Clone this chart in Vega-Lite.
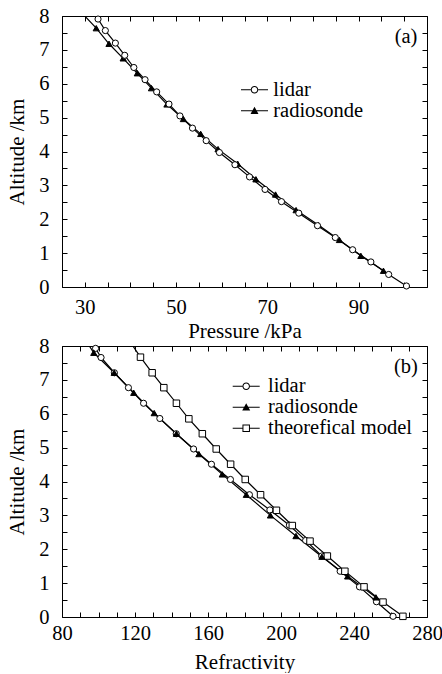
{
  "$schema": "https://vega.github.io/schema/vega-lite/v6.json",
  "padding": {"left": 6, "top": 5, "right": 0, "bottom": 0},
  "bounds": "flush",
  "spacing": 59,
  "config": {
    "font": "Liberation Serif",
    "view": {"stroke": "black", "strokeWidth": 1},
    "axis": {
      "labelFont": "Liberation Serif", "titleFont": "Liberation Serif",
      "labelFontSize": 20.5, "titleFontSize": 21, "labelColor": "black", "titleColor": "black",
      "titleFontWeight": "normal", "tickColor": "black", "domain": false, "grid": false,
      "tickSize": -5, "tickWidth": 1, "labelFlush": false, "labelOverlap": false
    },
    "legend": {
      "orient": "none", "title": null, "labelFont": "Liberation Serif", "labelFontSize": 20.5,
      "labelColor": "black", "symbolSize": 100, "rowPadding": -2, "padding": 0
    }
  },
  "datasets": {
    "a": [
      {"series": "radiosonde", "pressure": 95.45, "alt": 0.48},
      {"series": "radiosonde", "pressure": 90.5, "alt": 0.92},
      {"series": "radiosonde", "pressure": 85.8, "alt": 1.39},
      {"series": "radiosonde", "pressure": 81.2, "alt": 1.83},
      {"series": "radiosonde", "pressure": 76.3, "alt": 2.27},
      {"series": "radiosonde", "pressure": 71.8, "alt": 2.73},
      {"series": "radiosonde", "pressure": 67.5, "alt": 3.18},
      {"series": "radiosonde", "pressure": 63.5, "alt": 3.64},
      {"series": "radiosonde", "pressure": 59.2, "alt": 4.07},
      {"series": "radiosonde", "pressure": 55.4, "alt": 4.52},
      {"series": "radiosonde", "pressure": 51.6, "alt": 4.96},
      {"series": "radiosonde", "pressure": 48.0, "alt": 5.39},
      {"series": "radiosonde", "pressure": 44.6, "alt": 5.87},
      {"series": "radiosonde", "pressure": 41.5, "alt": 6.31},
      {"series": "radiosonde", "pressure": 38.4, "alt": 6.75},
      {"series": "radiosonde", "pressure": 35.3, "alt": 7.18},
      {"series": "radiosonde", "pressure": 32.5, "alt": 7.64},
      {"series": "radiosonde", "pressure": 27.9, "alt": 8.3},
      {"series": "lidar", "pressure": 100.5, "alt": 0.03},
      {"series": "lidar", "pressure": 96.6, "alt": 0.37},
      {"series": "lidar", "pressure": 92.7, "alt": 0.74},
      {"series": "lidar", "pressure": 88.7, "alt": 1.10},
      {"series": "lidar", "pressure": 84.9, "alt": 1.46},
      {"series": "lidar", "pressure": 81.0, "alt": 1.81},
      {"series": "lidar", "pressure": 76.9, "alt": 2.18},
      {"series": "lidar", "pressure": 73.1, "alt": 2.52},
      {"series": "lidar", "pressure": 69.5, "alt": 2.88},
      {"series": "lidar", "pressure": 66.1, "alt": 3.25},
      {"series": "lidar", "pressure": 62.9, "alt": 3.61},
      {"series": "lidar", "pressure": 59.5, "alt": 3.97},
      {"series": "lidar", "pressure": 56.6, "alt": 4.32},
      {"series": "lidar", "pressure": 53.6, "alt": 4.69},
      {"series": "lidar", "pressure": 50.85, "alt": 5.05},
      {"series": "lidar", "pressure": 48.45, "alt": 5.40},
      {"series": "lidar", "pressure": 45.75, "alt": 5.76},
      {"series": "lidar", "pressure": 43.2, "alt": 6.12},
      {"series": "lidar", "pressure": 40.75, "alt": 6.48},
      {"series": "lidar", "pressure": 38.75, "alt": 6.84},
      {"series": "lidar", "pressure": 36.7, "alt": 7.20},
      {"series": "lidar", "pressure": 34.5, "alt": 7.57},
      {"series": "lidar", "pressure": 32.9, "alt": 7.91}
    ],
    "b": [
      {"series": "lidar", "refractivity": 261.4, "alt": 0.02},
      {"series": "lidar", "refractivity": 252.3, "alt": 0.45},
      {"series": "lidar", "refractivity": 243.0, "alt": 0.89},
      {"series": "lidar", "refractivity": 232.4, "alt": 1.35},
      {"series": "lidar", "refractivity": 222.3, "alt": 1.80},
      {"series": "lidar", "refractivity": 213.5, "alt": 2.26},
      {"series": "lidar", "refractivity": 204.6, "alt": 2.71},
      {"series": "lidar", "refractivity": 193.9, "alt": 3.16},
      {"series": "lidar", "refractivity": 182.7, "alt": 3.61},
      {"series": "lidar", "refractivity": 172.3, "alt": 4.06},
      {"series": "lidar", "refractivity": 161.9, "alt": 4.51},
      {"series": "lidar", "refractivity": 152.1, "alt": 4.96},
      {"series": "lidar", "refractivity": 142.6, "alt": 5.41},
      {"series": "lidar", "refractivity": 133.6, "alt": 5.86},
      {"series": "lidar", "refractivity": 124.7, "alt": 6.31},
      {"series": "lidar", "refractivity": 116.4, "alt": 6.77},
      {"series": "lidar", "refractivity": 108.7, "alt": 7.21},
      {"series": "lidar", "refractivity": 101.4, "alt": 7.66},
      {"series": "lidar", "refractivity": 98.4, "alt": 7.93},
      {"series": "theorefical model", "refractivity": 266.8, "alt": 0.02},
      {"series": "theorefical model", "refractivity": 255.9, "alt": 0.44},
      {"series": "theorefical model", "refractivity": 245.5, "alt": 0.89},
      {"series": "theorefical model", "refractivity": 235.0, "alt": 1.35},
      {"series": "theorefical model", "refractivity": 225.4, "alt": 1.80},
      {"series": "theorefical model", "refractivity": 215.9, "alt": 2.24},
      {"series": "theorefical model", "refractivity": 206.2, "alt": 2.70},
      {"series": "theorefical model", "refractivity": 197.5, "alt": 3.15},
      {"series": "theorefical model", "refractivity": 188.8, "alt": 3.61},
      {"series": "theorefical model", "refractivity": 180.4, "alt": 4.06},
      {"series": "theorefical model", "refractivity": 172.4, "alt": 4.51},
      {"series": "theorefical model", "refractivity": 164.5, "alt": 4.96},
      {"series": "theorefical model", "refractivity": 156.9, "alt": 5.41},
      {"series": "theorefical model", "refractivity": 149.5, "alt": 5.85},
      {"series": "theorefical model", "refractivity": 142.7, "alt": 6.31},
      {"series": "theorefical model", "refractivity": 135.8, "alt": 6.77},
      {"series": "theorefical model", "refractivity": 129.4, "alt": 7.21},
      {"series": "theorefical model", "refractivity": 123.0, "alt": 7.67},
      {"series": "theorefical model", "refractivity": 115.1, "alt": 8.3},
      {"series": "radiosonde", "refractivity": 252.0, "alt": 0.58},
      {"series": "radiosonde", "refractivity": 236.5, "alt": 1.20},
      {"series": "radiosonde", "refractivity": 222.4, "alt": 1.78},
      {"series": "radiosonde", "refractivity": 208.2, "alt": 2.39},
      {"series": "radiosonde", "refractivity": 194.2, "alt": 3.00},
      {"series": "radiosonde", "refractivity": 181.0, "alt": 3.61},
      {"series": "radiosonde", "refractivity": 167.8, "alt": 4.21},
      {"series": "radiosonde", "refractivity": 155.0, "alt": 4.81},
      {"series": "radiosonde", "refractivity": 142.7, "alt": 5.41},
      {"series": "radiosonde", "refractivity": 130.5, "alt": 6.02},
      {"series": "radiosonde", "refractivity": 119.3, "alt": 6.62},
      {"series": "radiosonde", "refractivity": 108.6, "alt": 7.21},
      {"series": "radiosonde", "refractivity": 97.4, "alt": 7.80},
      {"series": "radiosonde", "refractivity": 90.2, "alt": 8.4}
    ]
  },
  "vconcat": [
    {
      "width": 365,
      "height": 271,
      "data": {"name": "a"},
      "layer": [
        {
          "mark": {"type": "line", "color": "black", "strokeWidth": 1.2, "clip": true},
          "encoding": {
            "x": {"field": "pressure", "type": "quantitative",
              "scale": {"domain": [25, 105], "nice": false, "zero": false},
              "axis": {"orient": "bottom", "title": "Pressure /kPa",
                "values": [25,30,35,40,45,50,55,60,65,70,75,80,85,90,95,100,105],
                "labelExpr": "(datum.value - 30) % 20 == 0 ? '' + datum.value : ''",
                "labelPadding": 15, "titlePadding": 3}},
            "y": {"field": "alt", "type": "quantitative",
              "scale": {"domain": [0, 8], "nice": false},
              "axis": {"orient": "left", "title": "Altitude /km",
                "values": [0,0.5,1,1.5,2,2.5,3,3.5,4,4.5,5,5.5,6,6.5,7,7.5,8],
                "labelExpr": "datum.value % 1 == 0 ? '' + datum.value : ''",
                "labelPadding": 18, "titlePadding": 11}},
            "detail": {"field": "series", "type": "nominal"},
            "order": {"field": "alt", "type": "quantitative"}
          }
        },
        {
          "transform": [{"filter": "datum.alt <= 8 && datum.series === 'radiosonde'"}],
          "mark": {"type": "point", "shape": "triangle-up", "filled": true, "fill": "black", "stroke": "black", "strokeWidth": 1, "opacity": 1, "size": 38},
          "encoding": {
            "x": {"field": "pressure", "type": "quantitative",
              "axis": {"orient": "top", "title": null, "labels": false,
                "values": [25,30,35,40,45,50,55,60,65,70,75,80,85,90,95,100,105]}},
            "y": {"field": "alt", "type": "quantitative",
              "axis": {"orient": "right", "title": null, "labels": false,
                "values": [0,0.5,1,1.5,2,2.5,3,3.5,4,4.5,5,5.5,6,6.5,7,7.5,8]}}
          }
        },
        {
          "transform": [{"filter": "datum.series === 'lidar'"}],
          "mark": {"type": "point", "shape": "circle", "filled": true, "fill": "white", "stroke": "black", "strokeWidth": 1, "opacity": 1, "size": 38},
          "encoding": {
            "x": {"field": "pressure", "type": "quantitative", "axis": null},
            "y": {"field": "alt", "type": "quantitative", "axis": null}
          }
        },
        {
          "transform": [{"filter": "false"}],
          "mark": {"type": "point", "filled": true, "fill": "black", "strokeWidth": 0, "opacity": 1},
          "encoding": {
            "x": {"field": "pressure", "type": "quantitative", "axis": null},
            "y": {"field": "alt", "type": "quantitative", "axis": null},
            "shape": {"field": "series", "type": "nominal",
              "scale": {"domain": ["lidar", "radiosonde"],
                "range": [
                  "M-1,-0.1L0.95,-0.1L0.95,0.1L-1,0.1ZM2.45,-0.1L4.4,-0.1L4.4,0.1L2.45,0.1ZM0.95,0A0.75,0.75 0 1,1 2.45,0A0.75,0.75 0 1,1 0.95,0ZM1.15,0A0.55,0.55 0 1,0 2.25,0A0.55,0.55 0 1,0 1.15,0Z",
                  "M-1,-0.1L4.4,-0.1L4.4,0.1L-1,0.1ZM0.9,0.65L1.7,-0.8L2.5,0.65Z"]},
              "legend": {"legendX": 173.75, "legendY": 63.5, "labelOffset": 17, "symbolFillColor": "black", "symbolStrokeWidth": 0}}
          }
        },
        {
          "data": {"values": [{"label": "(a)"}]},
          "mark": {"type": "text", "font": "Liberation Serif", "fontSize": 20.5, "color": "black", "align": "right", "baseline": "alphabetic"},
          "encoding": {
            "x": {"datum": 102.9, "type": "quantitative", "axis": null},
            "y": {"datum": 7.2, "type": "quantitative", "axis": null},
            "text": {"field": "label", "type": "nominal"}
          }
        }
      ],
      "resolve": {"axis": {"x": "independent", "y": "independent"}}
    },
    {
      "width": 365,
      "height": 271,
      "data": {"name": "b"},
      "layer": [
        {
          "mark": {"type": "line", "color": "black", "strokeWidth": 1.2, "clip": true},
          "encoding": {
            "x": {"field": "refractivity", "type": "quantitative",
              "scale": {"domain": [80, 280], "nice": false, "zero": false},
              "axis": {"orient": "bottom", "title": "Refractivity",
                "values": [80,90,100,110,120,130,140,150,160,170,180,190,200,210,220,230,240,250,260,270,280],
                "labelExpr": "datum.value % 40 == 0 ? '' + datum.value : ''",
                "labelPadding": 11, "titlePadding": 8}},
            "y": {"field": "alt", "type": "quantitative",
              "scale": {"domain": [0, 8], "nice": false},
              "axis": {"orient": "left", "title": "Altitude /km",
                "values": [0,0.5,1,1.5,2,2.5,3,3.5,4,4.5,5,5.5,6,6.5,7,7.5,8],
                "labelExpr": "datum.value % 1 == 0 ? '' + datum.value : ''",
                "labelPadding": 18, "titlePadding": 11}},
            "detail": {"field": "series", "type": "nominal"},
            "order": {"field": "alt", "type": "quantitative"}
          }
        },
        {
          "transform": [{"filter": "datum.series === 'lidar'"}],
          "mark": {"type": "point", "shape": "circle", "filled": true, "fill": "white", "stroke": "black", "strokeWidth": 1, "opacity": 1, "size": 38},
          "encoding": {
            "x": {"field": "refractivity", "type": "quantitative",
              "axis": {"orient": "top", "title": null, "labels": false,
                "values": [80,90,100,110,120,130,140,150,160,170,180,190,200,210,220,230,240,250,260,270,280]}},
            "y": {"field": "alt", "type": "quantitative",
              "axis": {"orient": "right", "title": null, "labels": false,
                "values": [0,0.5,1,1.5,2,2.5,3,3.5,4,4.5,5,5.5,6,6.5,7,7.5,8]}}
          }
        },
        {
          "transform": [{"filter": "datum.alt <= 8 && datum.series === 'theorefical model'"}],
          "mark": {"type": "point", "shape": "square", "filled": true, "fill": "white", "stroke": "black", "strokeWidth": 1, "opacity": 1, "size": 42},
          "encoding": {
            "x": {"field": "refractivity", "type": "quantitative", "axis": null},
            "y": {"field": "alt", "type": "quantitative", "axis": null}
          }
        },
        {
          "transform": [{"filter": "datum.alt <= 8 && datum.series === 'radiosonde'"}],
          "mark": {"type": "point", "shape": "triangle-up", "filled": true, "fill": "black", "stroke": "black", "strokeWidth": 1, "opacity": 1, "size": 38},
          "encoding": {
            "x": {"field": "refractivity", "type": "quantitative", "axis": null},
            "y": {"field": "alt", "type": "quantitative", "axis": null}
          }
        },
        {
          "transform": [{"filter": "false"}],
          "mark": {"type": "point", "filled": true, "fill": "black", "strokeWidth": 0, "opacity": 1},
          "encoding": {
            "x": {"field": "refractivity", "type": "quantitative", "axis": null},
            "y": {"field": "alt", "type": "quantitative", "axis": null},
            "shape": {"field": "series", "type": "nominal",
              "scale": {"domain": ["lidar", "radiosonde", "theorefical model"],
                "range": [
                  "M-1,-0.1L0.95,-0.1L0.95,0.1L-1,0.1ZM2.45,-0.1L4.4,-0.1L4.4,0.1L2.45,0.1ZM0.95,0A0.75,0.75 0 1,1 2.45,0A0.75,0.75 0 1,1 0.95,0ZM1.15,0A0.55,0.55 0 1,0 2.25,0A0.55,0.55 0 1,0 1.15,0Z",
                  "M-1,-0.1L4.4,-0.1L4.4,0.1L-1,0.1ZM0.9,0.65L1.7,-0.8L2.5,0.65Z",
                  "M-1,-0.1L0.95,-0.1L0.95,0.1L-1,0.1ZM2.45,-0.1L4.4,-0.1L4.4,0.1L2.45,0.1ZM0.95,-0.75L2.45,-0.75L2.45,0.75L0.95,0.75ZM1.15,-0.55L1.15,0.55L2.25,0.55L2.25,-0.55Z"]},
              "legend": {"legendX": 165.45, "legendY": 30, "labelOffset": 20, "symbolFillColor": "black", "symbolStrokeWidth": 0}}
          }
        },
        {
          "data": {"values": [{"label": "(b)"}]},
          "mark": {"type": "text", "font": "Liberation Serif", "fontSize": 20.5, "color": "black", "align": "right", "baseline": "alphabetic"},
          "encoding": {
            "x": {"datum": 275, "type": "quantitative", "axis": null},
            "y": {"datum": 7.2, "type": "quantitative", "axis": null},
            "text": {"field": "label", "type": "nominal"}
          }
        }
      ],
      "resolve": {"axis": {"x": "independent", "y": "independent"}}
    }
  ],
  "resolve": {"scale": {"shape": "independent"}, "legend": {"shape": "independent"}}
}
